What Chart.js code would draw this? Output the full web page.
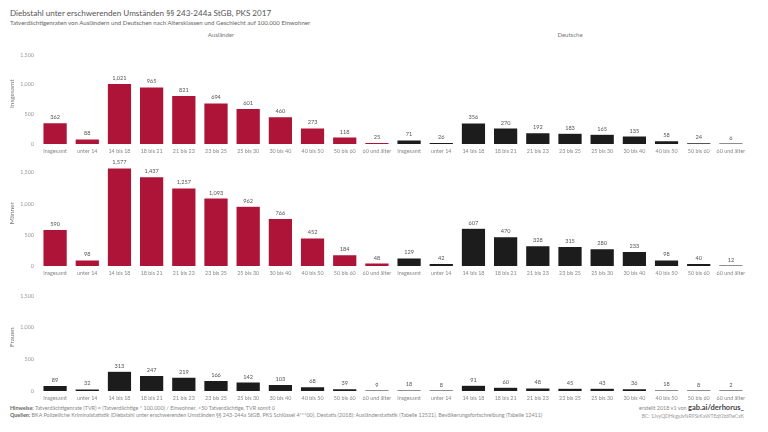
<!DOCTYPE html>
<html><head><meta charset="utf-8">
<script src="https://cdn.jsdelivr.net/npm/chart.js@4/dist/chart.umd.min.js"></script>
<style>
html,body{margin:0;padding:0;background:#fff;width:768px;height:432px;overflow:hidden;font-family:Lato,"Open Sans",sans-serif;}
.abs{position:absolute;white-space:nowrap;}
canvas{position:absolute;left:0;}
</style></head><body>
<div class="abs" style="left:10px;top:8px;font-size:8.1px;color:#555;">Diebstahl unter erschwerenden Umständen §§ 243-244a StGB, PKS 2017</div>
<div class="abs" style="left:10px;top:19px;font-size:6.1px;color:#666;">Tatverdächtigenraten von Ausländern und Deutschen nach Altersklassen und Geschlecht auf 100.000 Einwohner</div>
<div class="abs" style="left:200px;top:31px;width:42px;text-align:center;font-size:6px;color:#777;">Ausländer</div>
<div class="abs" style="left:549px;top:31px;width:42px;text-align:center;font-size:6px;color:#777;">Deutsche</div>
<div class="abs" style="left:10px;top:405px;font-size:5.4px;color:#888;"><b style="color:#666">Hinweise:</b> Tatverdächtigenrate (TVR) = (Tatverdächtige * 100.000) / Einwohner, &lt;50 Tatverdächtige, TVR somit 0</div>
<div class="abs" style="left:10px;top:412px;font-size:5.4px;color:#888;"><b style="color:#666">Quellen:</b> BKA Polizeiliche Kriminalstatistik (Diebstahl unter erschwerenden Umständen §§ 243-244a StGB, PKS Schlüssel 4***00), Destatis (2018): Ausländerstatistik (Tabelle 12521), Bevölkerungsfortschreibung (Tabelle 12411)</div>
<div class="abs" style="right:24px;top:403px;font-size:5.4px;color:#888;">erstellt 2018 v1 von <b style="font-size:7.5px;color:#444;">gab.ai/derhorus_</b></div>
<div class="abs" style="right:24px;top:413px;font-size:5px;color:#999;">BC: 1JvyQDHkgyJvNR9SkKxWTEqYJbbTwCxK</div>
<canvas id="c1"></canvas>
<canvas id="c2"></canvas>
<canvas id="c3"></canvas>
<script>
const categories = ["Insgesamt","unter 14","14 bis 18","18 bis 21","21 bis 23","23 bis 25","25 bis 30","30 bis 40","40 bis 50","50 bis 60","60 und älter"];
const groups = ["Ausländer","Deutsche"];
const rowNames = ["Insgesamt","Männer","Frauen"];
const auslaenderInsgesamt = [362,88,1021,965,821,694,601,460,273,118,25];
const deutscheInsgesamt   = [71,26,356,270,192,183,165,135,58,24,6];
const auslaenderMaenner   = [590,98,1577,1437,1257,1093,962,766,452,184,48];
const deutscheMaenner     = [129,42,607,470,328,315,280,233,98,40,12];
const auslaenderFrauen    = [89,32,313,247,219,166,142,103,68,39,9];
const deutscheFrauen      = [18,8,91,60,48,45,43,36,18,8,2];
const yTicks = [0,500,1000,1500];

const RED = "#ad1438", BLACK = "#1c1c1c";
const labels = categories.concat(categories);
const fmt = v => v.toLocaleString('en-US');

const valueLabels = {
  id:'valueLabels',
  afterDatasetsDraw(chart){
    const ctx = chart.ctx;
    const ds = chart.data.datasets[0];
    const meta = chart.getDatasetMeta(0);
    ctx.save();
    ctx.font = '5.6px Lato, sans-serif';
    ctx.fillStyle = '#555';
    ctx.textAlign = 'center';
    ctx.textBaseline = 'bottom';
    meta.data.forEach((bar,i)=>{ ctx.fillText(fmt(ds.data[i]), bar.x, bar.y - 2.5); });
    ctx.restore();
  }
};

function makeRow(id, top, height, values, colors, rowName){
  const cv = document.getElementById(id);
  cv.style.top = top + 'px';
  cv.width = 768; cv.height = height;
  cv.style.width = '768px'; cv.style.height = height + 'px';
  new Chart(cv, {
    type:'bar',
    data:{labels, datasets:[{data:values, backgroundColor:colors, borderColor:'rgba(255,255,255,0.6)', borderWidth:0.6, barPercentage:0.76, categoryPercentage:1, minBarLength:1}]},
    options:{
      responsive:false, animation:false, devicePixelRatio:1,
      layout:{padding:{left:8,right:21,top:0,bottom:0}},
      plugins:{legend:{display:false}, tooltip:{enabled:false}},
      scales:{
        x:{grid:{display:false, drawTicks:false}, border:{display:false},
           ticks:{font:{size:5.4, family:'Lato'}, color:'#888', maxRotation:0, autoSkip:false, padding:4},
           afterFit(a){ a.height = 12; }},
        y:{min:0, max:1700, grid:{display:false, drawTicks:false}, border:{display:false},
           afterBuildTicks(a){ a.ticks = yTicks.map(v=>({value:v})); },
           ticks:{font:{size:5.4, family:'Lato'}, color:'#999', padding:5, callback:v=>fmt(v)},
           title:{display:true, text:rowName, font:{size:6.5, family:'Lato'}, color:'#777', padding:{top:0,bottom:0}},
           afterFit(a){ a.width = 31; }}
      }
    },
    plugins:[valueLabels]
  });
}
const redBlack = Array(11).fill(RED).concat(Array(11).fill(BLACK));
const allBlack = Array(22).fill(BLACK);
makeRow('c1', 35, 121, auslaenderInsgesamt.concat(deutscheInsgesamt), redBlack, rowNames[0]);
makeRow('c2', 152, 126, auslaenderMaenner.concat(deutscheMaenner), redBlack, rowNames[1]);
makeRow('c3', 275, 128, auslaenderFrauen.concat(deutscheFrauen), allBlack, rowNames[2]);
</script>
</body></html>
